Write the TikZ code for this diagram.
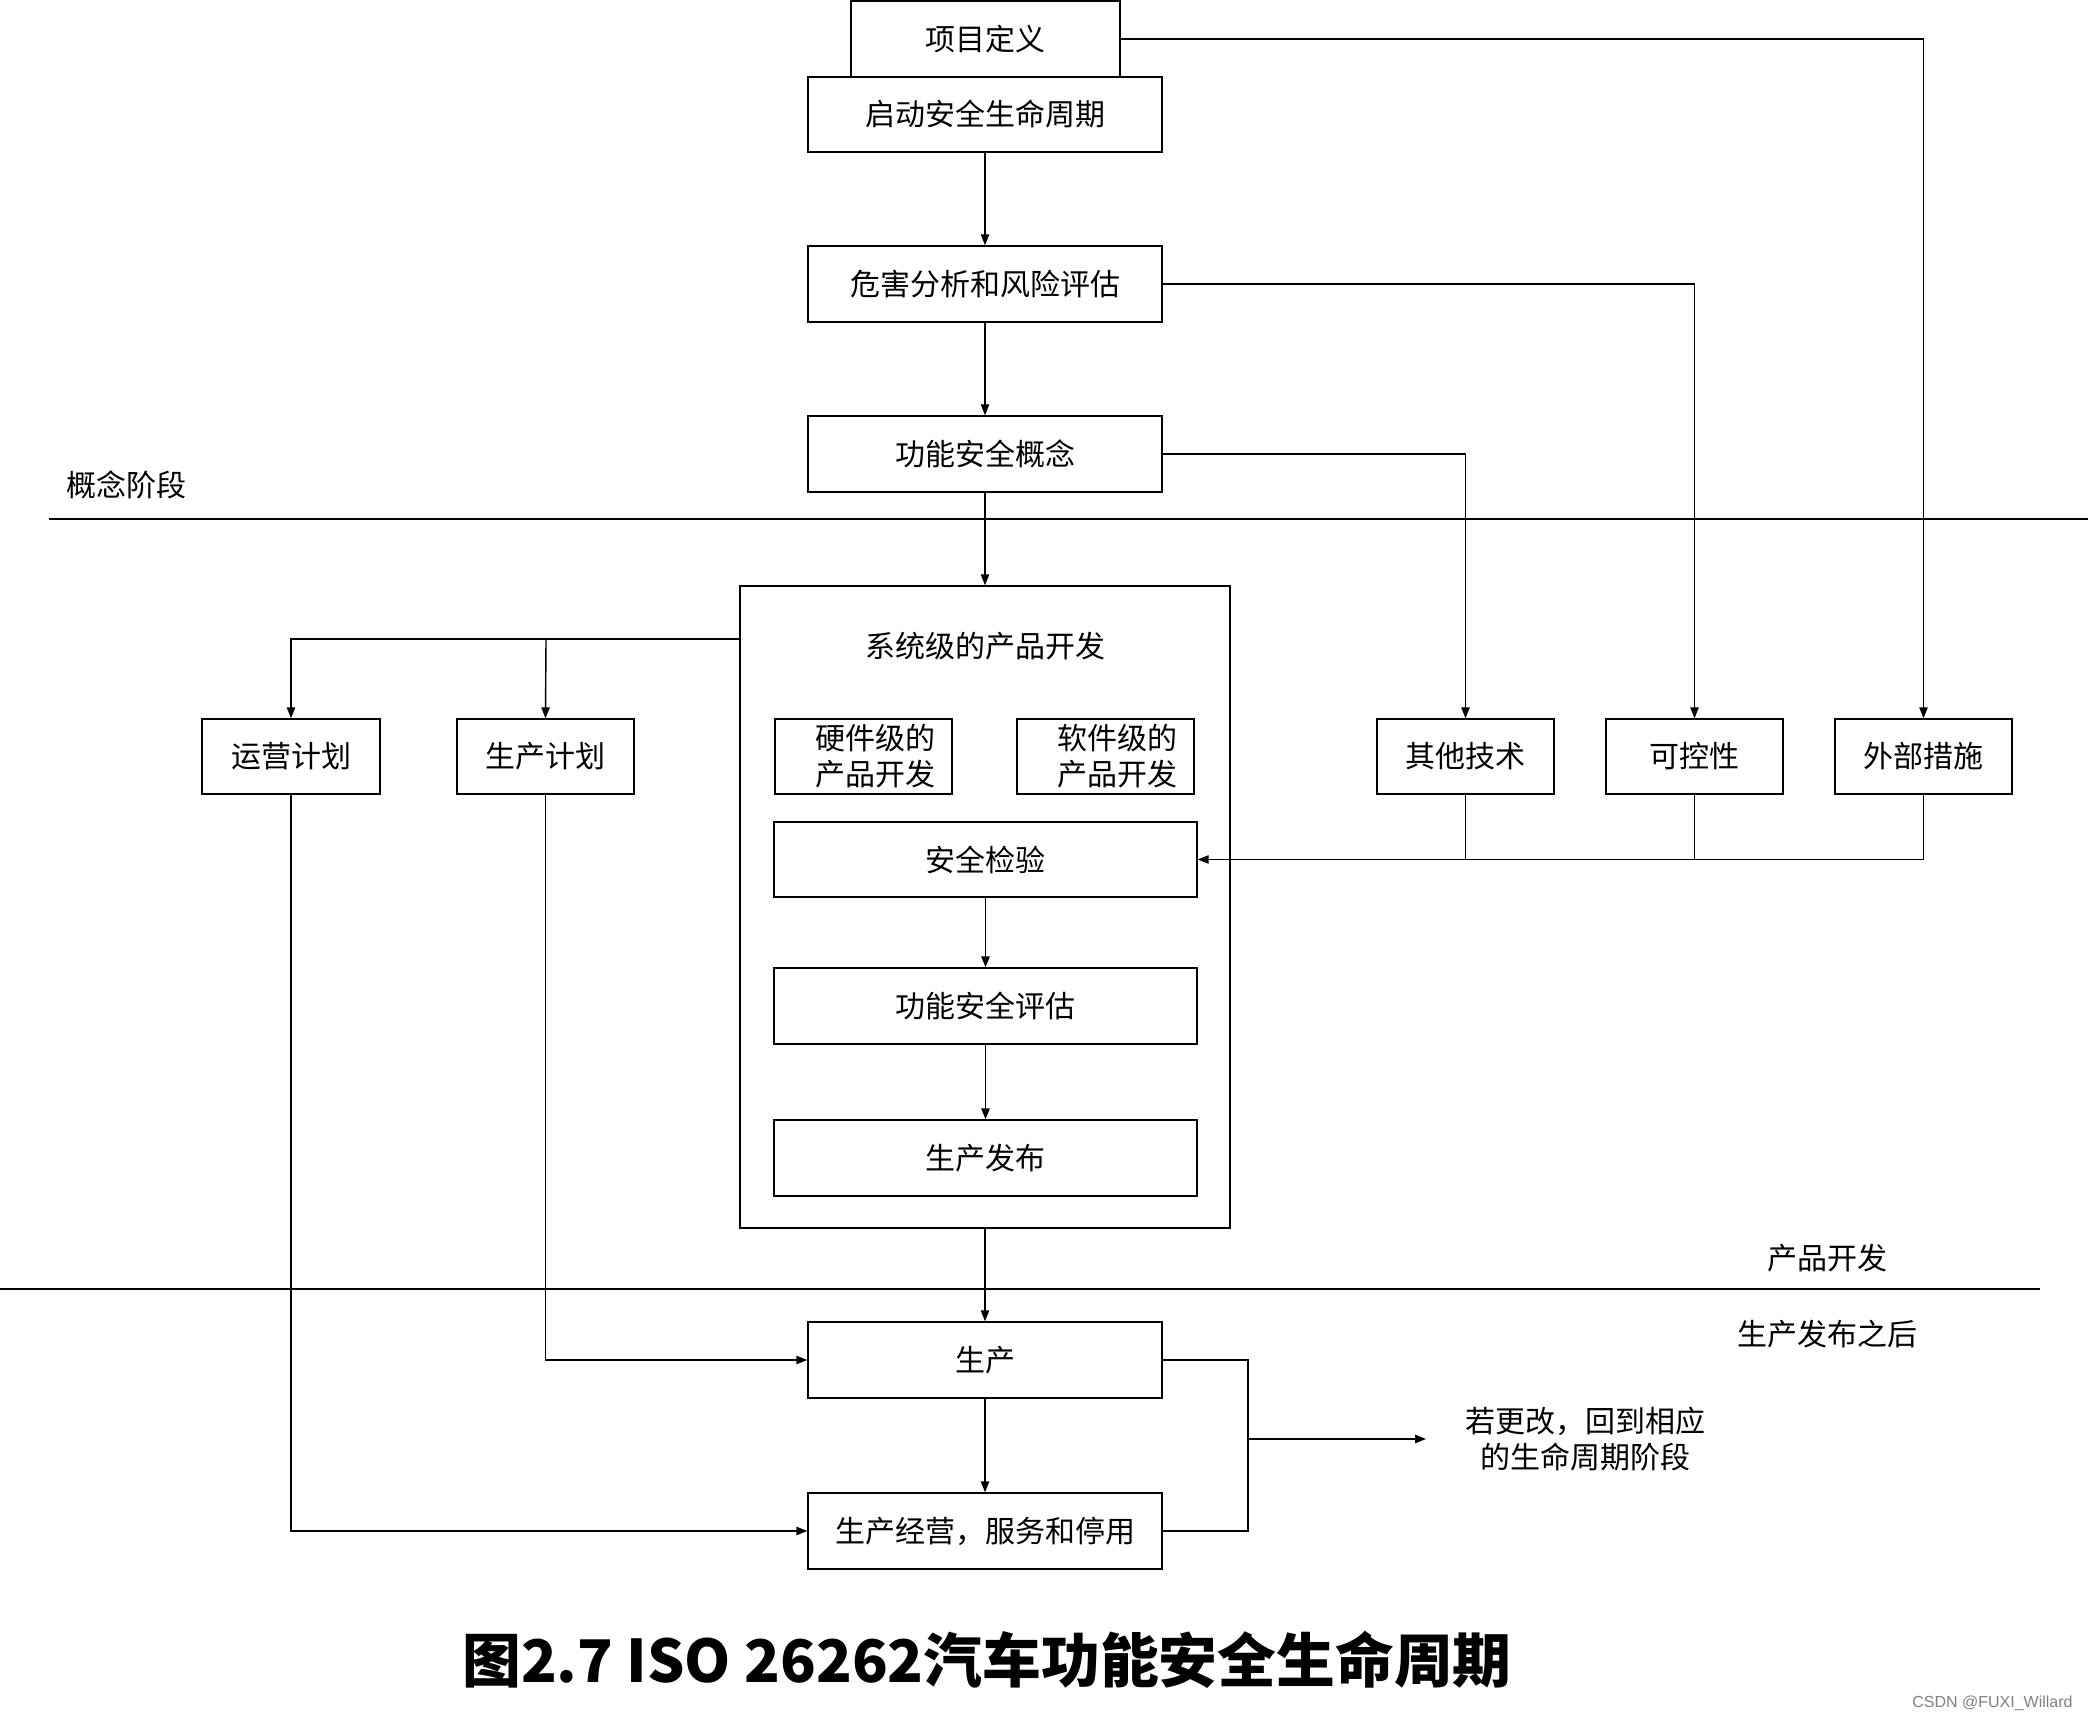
\documentclass[tikz,border=0pt]{standalone}
\usepackage{fontspec}
\newfontfamily\cjk{Noto Sans CJK SC}
\newfontfamily\wmfont{Liberation Sans}
\usetikzlibrary{arrows.meta}
\begin{document}
\begin{tikzpicture}[x=0.5pt,y=-0.5pt,
  every node/.style={font=\cjk\fontsize{15}{18}\selectfont},
  box/.style={draw, line width=0.7pt, inner sep=0pt, align=center},
  wide/.style={box, minimum width=177pt, minimum height=38pt},
  small/.style={box, minimum width=88.5pt, minimum height=37.5pt},
  inner/.style={box, minimum width=211.5pt, minimum height=38pt},
  conn/.style={line width=0.7pt},
  arr/.style={conn, -{Triangle[length=5.5pt,width=4.2pt]}},
  plain/.style={inner sep=0pt, align=center}]
\useasboundingbox (0,0) rectangle (2088,1722);

% top chain
\node[box, minimum width=134.5pt, minimum height=38pt] (item) at (985.5,39) {项目定义};
\node[wide, minimum height=37.5pt] (start) at (985,114.5) {启动安全生命周期};
\node[wide] (hara) at (985,284) {危害分析和风险评估};
\node[wide] (fsc) at (985,454) {功能安全概念};

% system box
\node[box, minimum width=245pt, minimum height=321pt] (sys) at (985,907) {};
\node[plain] (systxt) at (985,646) {系统级的产品开发};
\node[small] (hw) at (863.5,756.5) {};
\node[plain, align=left] (hwt) at (875,756.5) {硬件级的\\产品开发};
\node[small] (sw) at (1105.5,756.5) {};
\node[plain, align=left] (swt) at (1117,756.5) {软件级的\\产品开发};
\node[inner, minimum height=37.5pt] (verif) at (985.5,859.5) {安全检验};
\node[inner] (fsa) at (985.5,1006) {功能安全评估};
\node[inner] (rel) at (985.5,1158) {生产发布};

% side boxes
\node[small, minimum width=89pt] (ops) at (291,756.5) {运营计划};
\node[small] (pplan) at (545.5,756.5) {生产计划};
\node[small] (other) at (1465.5,756.5) {其他技术};
\node[small] (ctrl) at (1694.5,756.5) {可控性};
\node[small] (ext) at (1923.5,756.5) {外部措施};

% bottom
\node[wide] (prod) at (985,1360) {生产};
\node[wide] (oper) at (985,1531) {生产经营，服务和停用};
\node[plain] (fb) at (1585,1439) {若更改，回到相应\\的生命周期阶段};

% phase labels and lines
\node[plain] (lab1) at (126,485) {概念阶段};
\node[plain] (lab2) at (1827,1258) {产品开发};
\node[plain] (lab3) at (1827,1334) {生产发布之后};
\draw[conn] (49,519) -- (2088,519);
\draw[conn] (0,1289) -- (2040,1289);

% main vertical flow
\draw[arr] (start) -- (hara);
\draw[arr] (hara) -- (fsc);
\draw[arr] (fsc) -- (sys.north);
\draw[arr] (verif) -- (fsa);
\draw[arr] (fsa) -- (rel);
\draw[arr] (sys.south) -- (prod.north);
\draw[arr] (prod) -- (oper);

% right branches from top
\draw[arr] (item.east) -| (ext.north);
\draw[arr] (hara.east) -| (ctrl.north);
\draw[arr] (fsc.east) -| (other.north);

% feedback to verification
\draw[arr] (ext.south) |- (verif.east);
\draw[conn] (other.south) -- (other.south |- verif.east);
\draw[conn] (ctrl.south) -- (ctrl.south |- verif.east);

% left branches
\coordinate (sysL) at (740,639);
\coordinate (jn) at (546,639);
\draw[arr] (sysL) -| (ops.north);
\draw[arr] (jn) -- (pplan.north);
\draw[arr] (pplan.south) |- (prod.west);
\draw[arr] (ops.south) |- (oper.west);

% right loop
\coordinate (rt) at (1248,1360);
\coordinate (rb) at (1248,1531);
\coordinate (rm) at (1248,1439);
\coordinate (ae) at (1426,1439);
\draw[conn] (prod.east) -- (rt) -- (rb) -- (oper.east);
\draw[arr] (rm) -- (ae);

% title
\node[plain, font=\cjk\bfseries\fontsize{29.4}{34}\selectfont] (title) at (987,1660) {图2.7 ISO 26262汽车功能安全生命周期};
\node[plain, anchor=east, text=gray, font=\wmfont\fontsize{8}{9}\selectfont] (wm) at (2073,1703) {CSDN @FUXI\_Willard};
\end{tikzpicture}
\end{document}
